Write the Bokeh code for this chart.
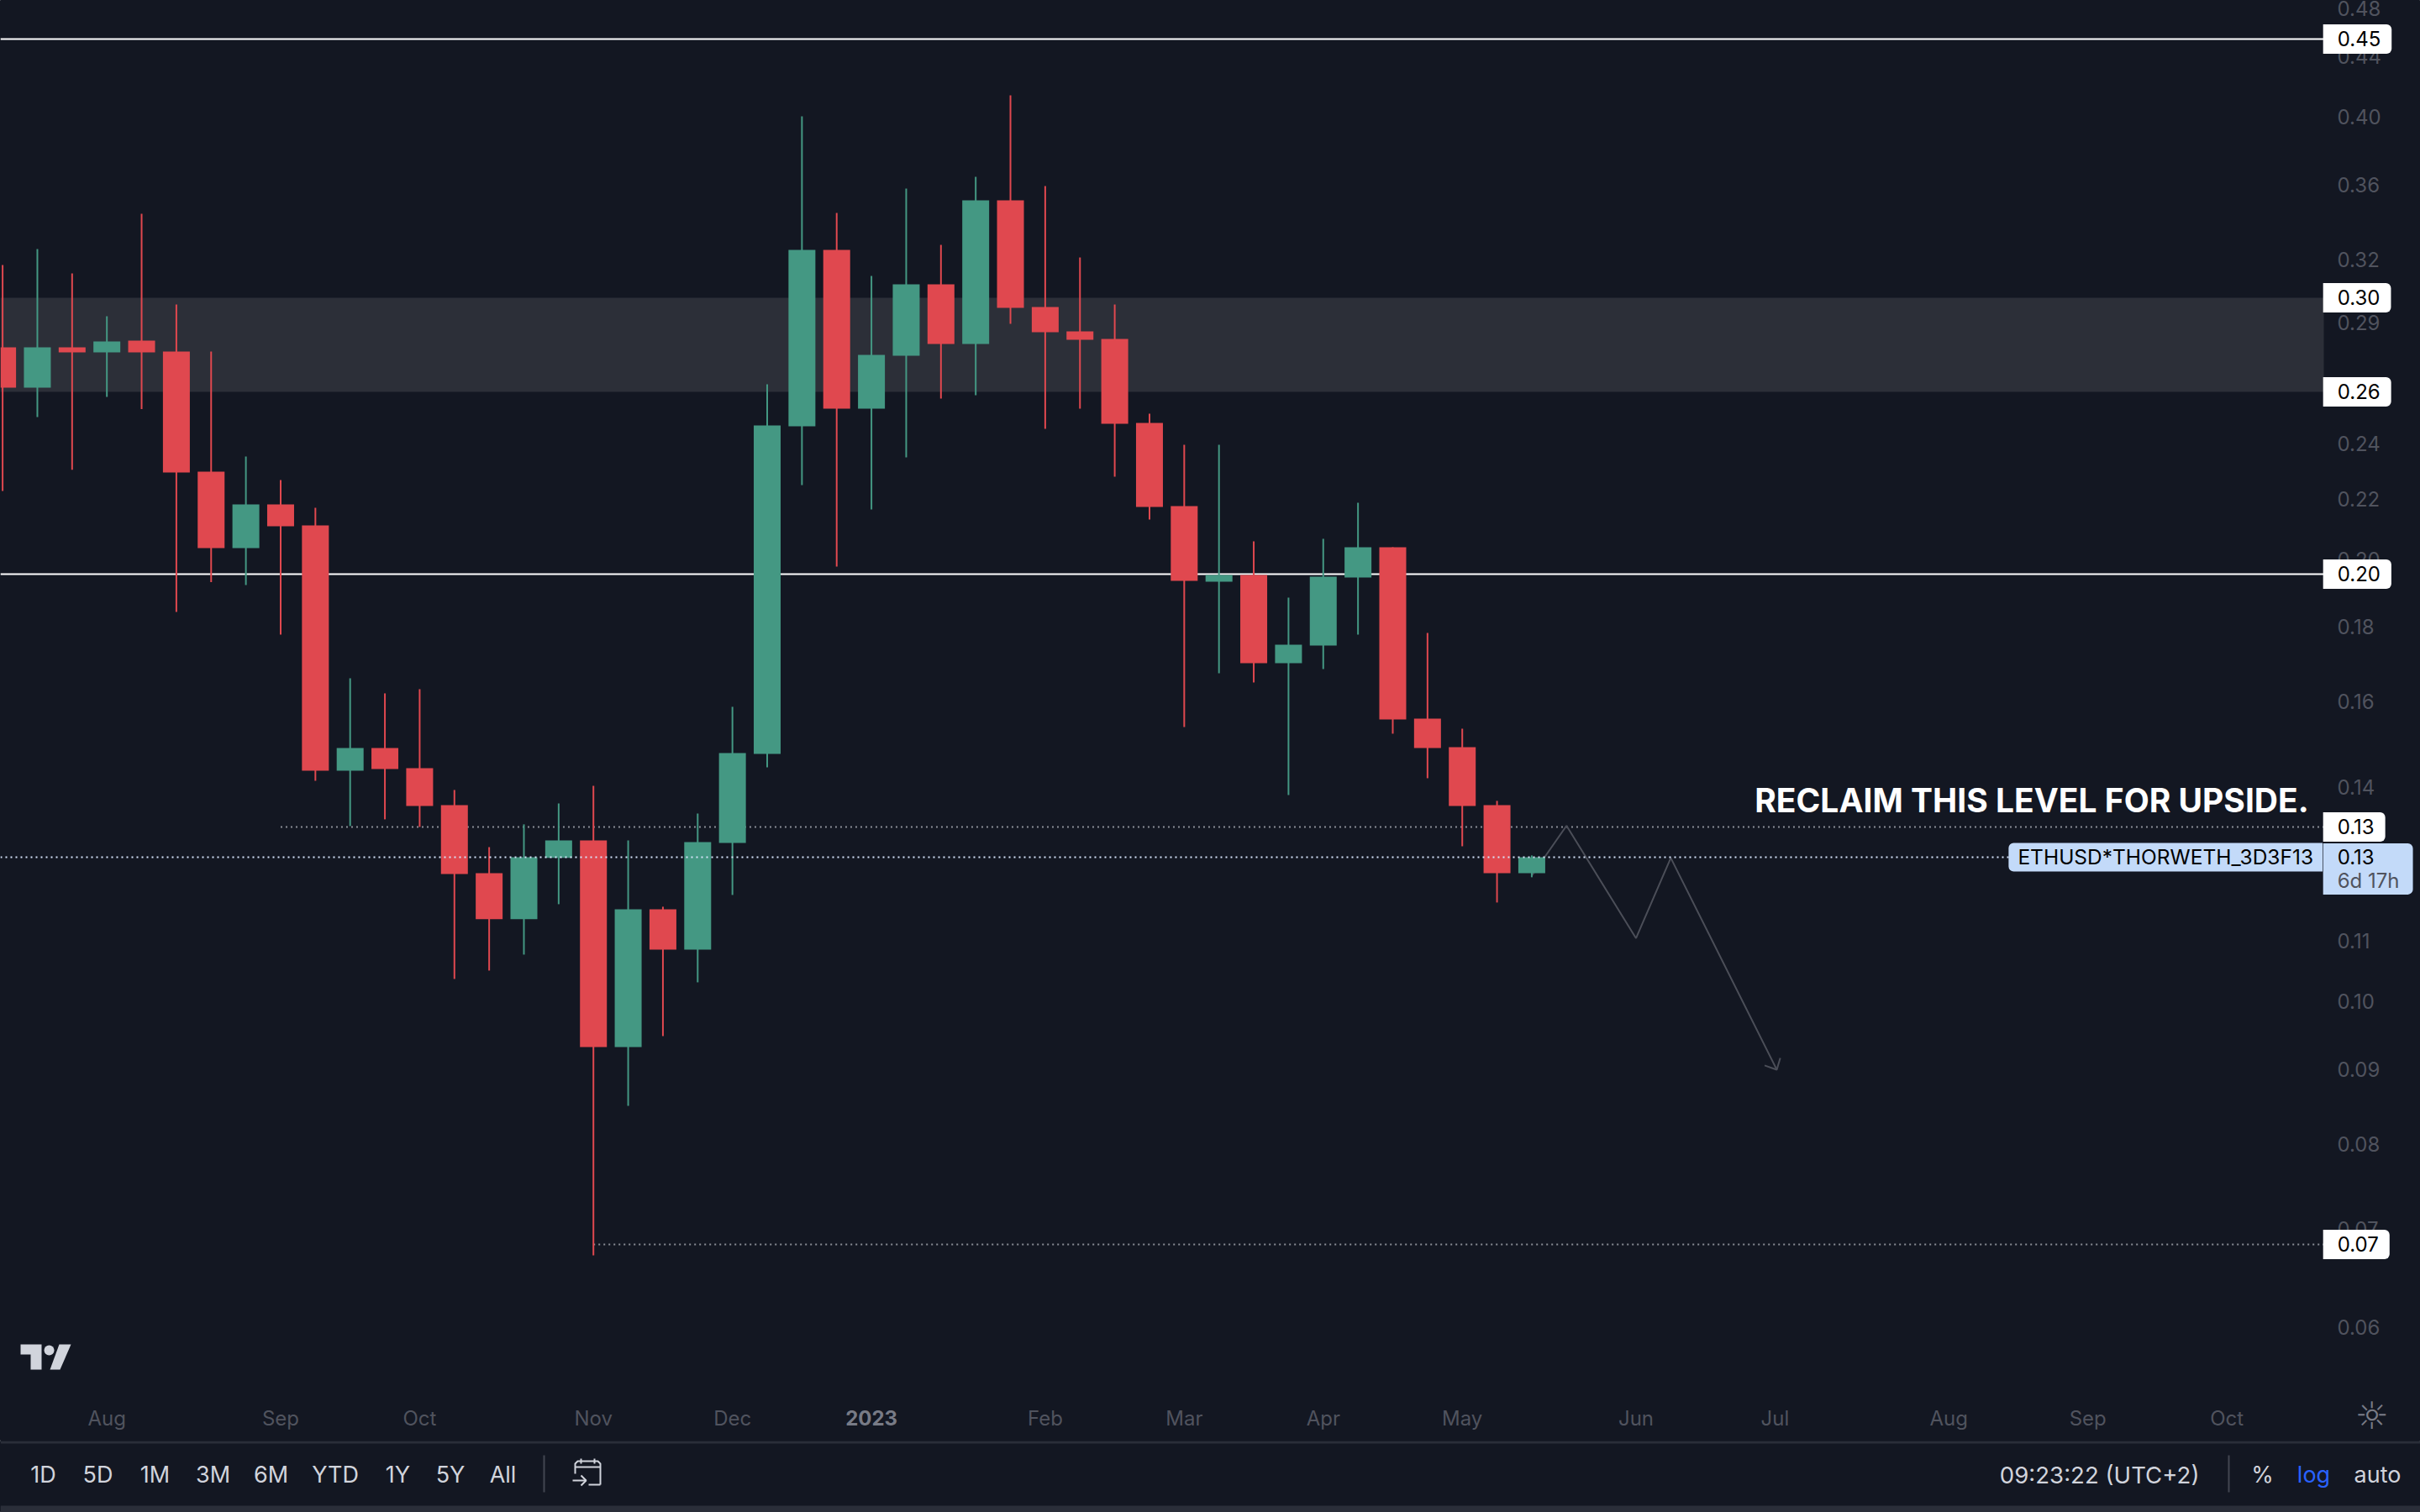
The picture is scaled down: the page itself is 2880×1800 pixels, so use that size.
"""ETH/THORWETH weekly chart, TradingView dark look."""
from bokeh.core.properties import value
from bokeh.embed import file_html
from bokeh.layouts import column
from bokeh.models import (
    ColumnDataSource,
    FixedTicker,
    Label,
    LinearAxis,
    LogAxis,
    NumeralTickFormatter,
    PolyAnnotation,
    Range1d,
)
from bokeh.plotting import figure
from bokeh.resources import INLINE

# weekly candles, x is the bar number
opens = [
    0.27886, 0.26179, 0.27886, 0.27665, 0.28182, 0.27702, 0.22951, 0.20359, 0.21802,
    0.21095, 0.14363, 0.14883, 0.14421, 0.13609, 0.12232, 0.11379, 0.12527, 0.12877,
    0.09315, 0.11560, 0.10852, 0.12826, 0.14746, 0.24640, 0.32486, 0.25331, 0.27522,
    0.30779, 0.28033, 0.35110, 0.29705, 0.28593, 0.28257, 0.24771, 0.21745, 0.19315,
    0.19520, 0.16998, 0.17476, 0.19442, 0.20386, 0.15585, 0.14903, 0.13609, 0.12232,
]
highs = [
    0.31726, 0.32529, 0.31312, 0.29278, 0.34379, 0.29823, 0.27702, 0.23501, 0.22650,
    0.21687, 0.16601, 0.16213, 0.16320, 0.13935, 0.12741, 0.13204, 0.13644,
    0.14027, 0.12877, 0.11605, 0.13430, 0.15875, 0.26316, 0.40053, 0.34424, 0.31187,
    0.35765, 0.32745, 0.36430, 0.41392, 0.35907, 0.32104, 0.29823, 0.25133, 0.23936,
    0.23936, 0.20575, 0.18838, 0.20657, 0.21858, 0.20386, 0.17824, 0.15340, 0.13699,
    0.12576,
]
lows = [
    0.22266, 0.25000, 0.23021, 0.25803, 0.25311, 0.18420, 0.19302, 0.19213, 0.17777,
    0.14137, 0.13169, 0.13308, 0.13151, 0.10363, 0.10500, 0.10766, 0.11651, 0.06720,
    0.08494, 0.09475, 0.10308, 0.11821, 0.14440, 0.22471, 0.19778, 0.21630, 0.23470,
    0.25735, 0.25871, 0.28933, 0.24544, 0.25331, 0.22769, 0.21290, 0.15381, 0.16733,
    0.16492, 0.13825, 0.16843, 0.17777, 0.15220, 0.14194, 0.12758, 0.11682, 0.12153,
]
closes = [
    0.26179, 0.27886, 0.27665, 0.28145, 0.27665, 0.22921, 0.20359, 0.21802, 0.21067,
    0.14363, 0.14883, 0.14402, 0.13590, 0.12217, 0.11379, 0.12543, 0.12877, 0.09315,
    0.11560, 0.10852, 0.12843, 0.14765, 0.24673, 0.32486, 0.25331, 0.27558, 0.30779,
    0.28033, 0.35110, 0.29666, 0.28555, 0.28219, 0.24738, 0.21716, 0.19341, 0.19520,
    0.16998, 0.17498, 0.19468, 0.20386, 0.15564, 0.14883, 0.13590, 0.12232, 0.12543,
]

# price scale
y_ticks = [0.06, 0.07, 0.08, 0.09, 0.10, 0.11, 0.14, 0.16, 0.18, 0.20, 0.22, 0.24,
           0.29, 0.32, 0.36, 0.40, 0.44, 0.48]
month_bars = [3, 8, 12, 17, 21, 25, 30, 34, 38, 42, 47, 51, 56, 60, 64]
month_names = ["Aug", "Sep", "Oct", "Nov", "Dec", "", "Feb", "Mar", "Apr", "May", "Jun",
               "Jul", "Aug", "Sep", "Oct"]

# drawn levels
solid_levels = [0.45208, 0.19546]
zone_top = 0.30138
zone_bottom = 0.26007
reclaim_level = 0.13151
reclaim_start = 8
low_level = 0.06836
low_start = 17
last_price = 0.12543
level_labels = [0.45208, 0.30138, 0.26007, 0.19546, 0.13151, 0.06836]
level_texts = ["0.45", "0.30", "0.26", "0.20", "0.13", "0.07"]

# projected path
path_bars = [44, 45, 47, 48, 51.05]
path_prices = [0.12185, 0.13176, 0.11046, 0.12527, 0.08989]
head_bars = [50.70, 51.05, 51.15]
head_prices = [0.09049, 0.08989, 0.09156]

# bottom bar
range_names = ["1D", "5D", "1M", "3M", "6M", "YTD", "1Y", "5Y", "All"]
range_pos = [51, 116, 184, 253, 322, 398.6, 473, 535.5, 598]

BG = "#131722"
RED = "#e0484f"
GREEN = "#449883"
MUTED = "#50535e"
LIGHT = "#d1d4dc"
FONT = "Inter"

X_START = -0.0629
PANE_END = 66.79
PANE_BOTTOM = 0.05345

p = figure(
    width=2880,
    height=1715,
    x_range=Range1d(X_START, 69.57),
    y_range=Range1d(0.05023, 0.48032),
    y_axis_type="log",
    x_axis_location=None,
    y_axis_location=None,
    output_backend="svg",
    toolbar_location=None,
    background_fill_color=BG,
    border_fill_color=BG,
    min_border=0,
    outline_line_color=BG,
)
p.grid.visible = False

yaxis = LogAxis(
    fixed_location=PANE_END,
    ticker=FixedTicker(ticks=y_ticks),
    formatter=NumeralTickFormatter(format="0.00"),
    major_label_standoff=10,
)
xaxis = LinearAxis(
    fixed_location=PANE_BOTTOM,
    ticker=FixedTicker(ticks=month_bars),
    major_label_overrides=dict(zip(month_bars, month_names)),
    major_label_standoff=0,
)
for axis in (xaxis, yaxis):
    axis.axis_line_color = None
    axis.major_tick_line_color = None
    axis.minor_tick_line_color = None
    axis.major_label_text_color = MUTED
    axis.major_label_text_font = FONT
    axis.major_label_text_font_size = "24px"
p.add_layout(yaxis, "right")
p.add_layout(xaxis, "below")

# zone and levels go under the candles
p.quad(left=X_START, right=PANE_END, top=zone_top, bottom=zone_bottom, fill_color="#2c2f38", line_color=None)
p.segment(X_START, solid_levels, PANE_END, solid_levels, line_color="#ffffff", line_width=2)
p.segment(reclaim_start, reclaim_level, PANE_END, reclaim_level, line_color="#8a8d96",
          line_width=2, line_dash="2 4")
p.segment(low_start, low_level, PANE_END, low_level, line_color="#8a8d96",
          line_width=2, line_dash="2 4")
p.line(path_bars, path_prices, line_color="#4b4e58", line_width=2)
p.line(head_bars, head_prices, line_color="#4b4e58", line_width=2)

bars = list(range(len(opens)))
colors = [GREEN if c >= o else RED for o, c in zip(opens, closes)]
source = ColumnDataSource(
    dict(
        x=bars,
        high=highs,
        low=lows,
        top=[max(o, c) for o, c in zip(opens, closes)],
        bottom=[min(o, c) for o, c in zip(opens, closes)],
        color=colors,
    )
)
p.segment("x", "high", "x", "low", color="color", line_width=2, source=source)
p.vbar("x", 0.774, "top", "bottom", fill_color="color", line_color=None, source=source)

p.segment(X_START, last_price, PANE_END, last_price, line_color="#d6e4fa",
          line_width=2, line_dash="2 4")

p.text(
    [66.36],
    [0.13717],
    text=["RECLAIM THIS LEVEL FOR UPSIDE."],
    text_color="#ffffff",
    text_font=value(FONT),
    text_font_style="bold",
    text_font_size="39px",
    text_align="right",
    text_baseline="middle",
)

# TV logo
logo_x = [[24, 49, 49, 36, 36, 24], [70, 84, 71, 59]]
logo_y = [[1600, 1600, 1630, 1630, 1612, 1612], [1600, 1600, 1630, 1630]]
for xs, ys in zip(logo_x, logo_y):
    p.add_layout(
        PolyAnnotation(
            xs=xs,
            ys=[1715 - v for v in ys],
            xs_units="screen",
            ys_units="screen",
            fill_color=LIGHT,
            fill_alpha=1,
            line_color=None,
        )
    )
p.scatter([1.34], [0.0579], size=12, fill_color=LIGHT, line_color=None)


def price_label(x, y, text, color="#000000", fill=None, padding=(17, 13, 8, 9), size="24px", radius=(0, 6, 6, 0)):
    # padding is (left, right, top, bottom)
    p.add_layout(
        Label(
            x=x,
            y=y,
            text=text,
            text_color=color,
            text_font=FONT,
            text_font_size=size,
            text_align="left",
            text_baseline="middle",
            background_fill_color=fill,
            padding=padding,
            border_radius=radius,
        )
    )


for price, txt in zip(level_labels, level_texts):
    price_label(66.77, price, txt, fill="#ffffff")

# last price tag
price_label(57.72, last_price, "ETHUSD*THORWETH_3D3F13", fill="#c3daf9", padding=(11, 11, 2, 2),
            size="24.5px", radius=(6, 0, 0, 6))
price_label(66.77, 0.12314, "6d 17h", color=MUTED, fill="#c3daf9", padding=(17, 16, 30, 2))
price_label(66.77, last_price, "0.13", padding=(17, 0, 0, 0), radius=0)

p.text([25], [0.05206], text=["2023"], text_color="#787b86", text_font=value(FONT),
       text_font_style="bold", text_font_size="24px", text_align="center", text_baseline="middle")
p.text([68.17], [0.05224], text=["\u263c"], text_color="#787b86", text_font=value("DejaVu Sans"),
       text_font_size="45px", text_align="center", text_baseline="middle")

# bottom bar, plain pixel space
bar = figure(
    width=2880,
    height=85,
    x_range=Range1d(0, 2880),
    y_range=Range1d(85, 0),
    output_backend="svg",
    toolbar_location=None,
    background_fill_color=BG,
    border_fill_color=BG,
    min_border=0,
    outline_line_color=BG,
)
bar.axis.visible = False
bar.grid.visible = False
bar.quad(left=0, right=2880, top=0, bottom=3, fill_color="#2a2e39", line_color=None)
bar.quad(left=0, right=2880, top=77, bottom=85, fill_color="#2a2e39", line_color=None)
bar.segment([647, 2652], [17, 17], [647, 2652], [61, 61], line_color="#434651", line_width=2)
bar.text(
    range_pos,
    [40] * len(range_pos),
    text=range_names,
    text_color=LIGHT,
    text_font=value(FONT),
    text_font_size="27px",
    text_align="center",
    text_baseline="middle",
)
bar.text([2617], [40], text=["09:23:22 (UTC+2)"], text_color=LIGHT, text_font=value(FONT),
         text_font_size="27.6px", text_align="right", text_baseline="middle")
bar.text([2692, 2829], [40, 40], text=["%", "auto"], text_color=LIGHT, text_font=value(FONT),
         text_font_size="27px", text_align="center", text_baseline="middle")
bar.text([2753], [40], text=["log"], text_color="#2962ff", text_font=value(FONT),
         text_font_size="27px", text_align="center", text_baseline="middle")

# calendar icon
bar.multi_line(
    [
        [684, 684, 687, 711, 714, 714],
        [684, 714],
        [691, 691],
        [707, 707],
        [714, 700],
        [681, 697],
        [691, 697, 691],
    ],
    [
        [39, 27, 24, 24, 27, 52],
        [31, 31],
        [21, 27],
        [21, 27],
        [52, 52],
        [47, 47],
        [41, 47, 53],
    ],
    line_color=LIGHT,
    line_width=2,
)

layout = column(p, bar, spacing=0)
open("out.html", "w").write(file_html(layout, INLINE))
